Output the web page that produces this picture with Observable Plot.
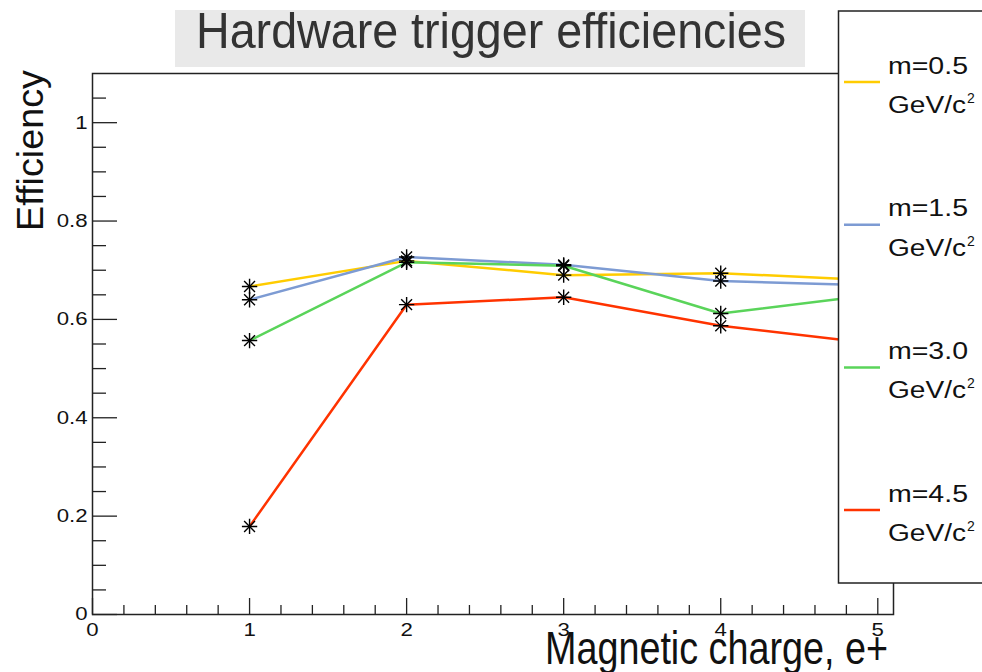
<!DOCTYPE html>
<html>
<head>
<meta charset="utf-8">
<script src="https://cdn.jsdelivr.net/npm/d3@7"></script>
<script src="https://cdn.jsdelivr.net/npm/@observablehq/plot@0.6"></script>
<style>
  html, body { margin: 0; padding: 0; background: #fff; }
  #chart { width: 982px; height: 672px; overflow: hidden; }
  svg text { font-family: "Liberation Sans", Arial, Helvetica, sans-serif; }
</style>
</head>
<body>
<div id="chart"></div>
<script>
// Magnetic charge (in units of e+) at which each efficiency was measured
const charges = [1, 2, 3, 4, 5];

// Monopole mass hypotheses and their line colours
const masses = ["m=0.5", "m=1.5", "m=3.0", "m=4.5"];
const colors = ["#ffcc00", "#7d9bd3", "#5ad45a", "#ff3300"];

// Hardware trigger efficiency per mass, one value per charge
const eff05 = [0.667, 0.719, 0.690, 0.694, 0.679];
const eff15 = [0.640, 0.727, 0.711, 0.678, 0.669];
const eff30 = [0.557, 0.716, 0.709, 0.612, 0.651];
const eff45 = [0.179, 0.630, 0.645, 0.587, 0.550];
const series = [eff05, eff15, eff30, eff45];

// Axis ticks
const xMajor = [0, 1, 2, 3, 4, 5];
const xMinor = [0.2, 0.4, 0.6, 0.8, 1.2, 1.4, 1.6, 1.8, 2.2, 2.4, 2.6, 2.8,
                3.2, 3.4, 3.6, 3.8, 4.2, 4.4, 4.6, 4.8];
const yMajor = [0, 0.2, 0.4, 0.6, 0.8, 1];
const yMinor = [0.05, 0.1, 0.15, 0.25, 0.3, 0.35, 0.45, 0.5, 0.55, 0.65, 0.7, 0.75,
                0.85, 0.9, 0.95, 1.05];

const titleText = "Hardware trigger efficiencies";
const xTitle = "Magnetic charge, e+";
const yTitle = "Efficiency";
const unitText = "GeV/c";

const rows = series.flatMap((vals, i) =>
  charges.map((c, j) => ({mass: masses[i], charge: c, eff: vals[j]}))
);

const W = 982, H = 672;
const tickColor = "#222";
const numFormat = d => String(d);

const svg = Plot.plot({
  width: W,
  height: H,
  marginLeft: 92,
  marginRight: 89,
  marginTop: 73,
  marginBottom: 58,
  style: {background: "white", fontFamily: "Liberation Sans, Arial, sans-serif", color: "black"},
  x: {domain: [0, 5.1]},
  y: {domain: [0, 1.1]},
  color: {domain: masses, range: colors},
  marks: [
    // inward-pointing ticks (minor then major)
    Plot.axisY({ticks: yMinor, tickSize: -14, tickFormat: () => "", label: null, stroke: tickColor, strokeWidth: 1.3}),
    Plot.axisY({ticks: yMajor, tickSize: -25, tickFormat: () => "", label: null, stroke: tickColor, strokeWidth: 1.3}),
    Plot.axisY({ticks: yMajor, tickSize: 0, tickPadding: 5, fontSize: 18.5, tickFormat: numFormat, label: null, fill: "#111"}),
    Plot.axisX({ticks: xMinor, tickSize: -9, tickFormat: () => "", label: null, stroke: tickColor, strokeWidth: 1.3}),
    Plot.axisX({ticks: xMajor, tickSize: -16, tickFormat: () => "", label: null, stroke: tickColor, strokeWidth: 1.3}),
    Plot.axisX({ticks: xMajor, tickSize: 0, tickPadding: 8, fontSize: 18.5, tickFormat: numFormat, label: null, fill: "#111"}),
    Plot.line(rows, {x: "charge", y: "eff", stroke: "mass", strokeWidth: 2.5}),
    // eight-armed star markers: a plus and a times drawn on top of each other
    Plot.dot(rows, {x: "charge", y: "eff", symbol: "plus", r: 5, stroke: "black", strokeWidth: 1.4}),
    Plot.dot(rows, {x: "charge", y: "eff", symbol: "times", r: 5, stroke: "black", strokeWidth: 1.4}),
    Plot.frame({stroke: "#222", strokeWidth: 1.5})
  ]
});

document.getElementById("chart").appendChild(svg);
const root = d3.select(svg);

// widen the tick numbers slightly, as in the original ROOT rendering
root.selectAll('g[aria-label="y-axis tick label"] text, g[aria-label="x-axis tick label"] text')
  .each(function () {
    const w = this.getComputedTextLength();
    if (w > 0) d3.select(this).attr("textLength", w * 1.2).attr("lengthAdjust", "spacingAndGlyphs");
  });

// title box
const title = root.append("g").attr("aria-label", "title").attr("text-anchor", "start");
title.append("rect")
  .attr("x", 175).attr("y", 10).attr("width", 630).attr("height", 57)
  .attr("fill", "#e9e9e9");
title.append("text")
  .attr("x", 196).attr("y", 48)
  .attr("font-size", 50).attr("fill", "#333")
  .attr("textLength", 590).attr("lengthAdjust", "spacingAndGlyphs")
  .text(titleText);

// axis titles
const titles = root.append("g").attr("aria-label", "axis titles").attr("text-anchor", "start");
titles.append("text")
  .attr("x", 545).attr("y", 664)
  .attr("font-size", 46).attr("fill", "#111")
  .attr("textLength", 343).attr("lengthAdjust", "spacingAndGlyphs")
  .text(xTitle);

titles.append("text")
  .attr("transform", "translate(43,231) rotate(-90)")
  .attr("font-size", 37).attr("fill", "#111")
  .attr("textLength", 161).attr("lengthAdjust", "spacingAndGlyphs")
  .text(yTitle);

// legend box
const legend = root.append("g").attr("aria-label", "legend").attr("text-anchor", "start");
legend.append("rect")
  .attr("x", 838.5).attr("y", 11).attr("width", 170).attr("height", 572)
  .attr("fill", "white").attr("stroke", "#222").attr("stroke-width", 1.5);

masses.forEach((m, i) => {
  const cy = 82 + i * 142.7;
  const g = legend.append("g");
  g.append("line")
    .attr("x1", 844).attr("x2", 880).attr("y1", cy).attr("y2", cy)
    .attr("stroke", colors[i]).attr("stroke-width", 2.5);
  g.append("text")
    .attr("x", 888).attr("y", cy - 8.5)
    .attr("font-size", 23).attr("fill", "#111")
    .attr("textLength", 80).attr("lengthAdjust", "spacingAndGlyphs")
    .text(m);
  g.append("text")
    .attr("x", 888).attr("y", cy + 31)
    .attr("font-size", 23).attr("fill", "#111")
    .attr("textLength", 78).attr("lengthAdjust", "spacingAndGlyphs")
    .text(unitText);
  g.append("text")
    .attr("x", 967).attr("y", cy + 21)
    .attr("font-size", 14).attr("fill", "#111")
    .text("2");
});
</script>
</body>
</html>
